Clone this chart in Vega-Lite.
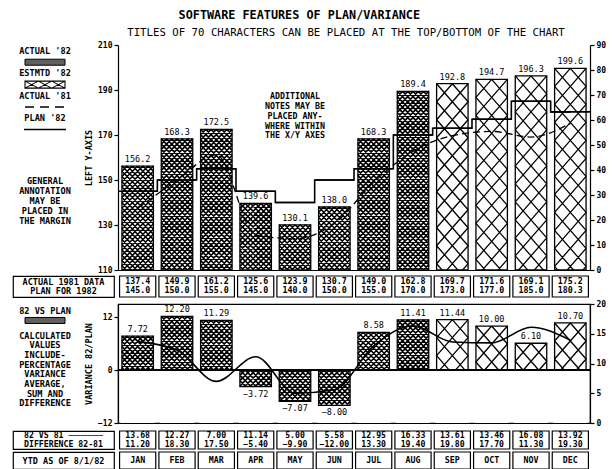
{
  "$schema": "https://vega.github.io/schema/vega-lite/v6.json",
  "background": "white",
  "padding": {"left": 12, "top": 9, "right": 4, "bottom": 0},
  "title": {"text": "SOFTWARE FEATURES OF PLAN/VARIANCE", "fontSize": 11.8, "fontWeight": "bold", "anchor": "middle", "offset": 6, "dx": -10},
  "datasets": {
    "m": [
      {"month": "JAN", "status": "ACTUAL", "actual": 156.2, "a81": 137.4, "plan": 145.0, "var": 7.72, "vs81": 13.68, "diff": 11.20},
      {"month": "FEB", "status": "ACTUAL", "actual": 168.3, "a81": 149.9, "plan": 150.0, "var": 12.20, "vs81": 12.27, "diff": 18.30},
      {"month": "MAR", "status": "ACTUAL", "actual": 172.5, "a81": 161.2, "plan": 155.0, "var": 11.29, "vs81": 7.00, "diff": 17.50},
      {"month": "APR", "status": "ACTUAL", "actual": 139.6, "a81": 125.6, "plan": 145.0, "var": -3.72, "vs81": 11.14, "diff": -5.40},
      {"month": "MAY", "status": "ACTUAL", "actual": 130.1, "a81": 123.9, "plan": 140.0, "var": -7.07, "vs81": 5.00, "diff": -9.90},
      {"month": "JUN", "status": "ACTUAL", "actual": 138.0, "a81": 130.7, "plan": 150.0, "var": -8.00, "vs81": 5.58, "diff": -12.00},
      {"month": "JUL", "status": "ACTUAL", "actual": 168.3, "a81": 149.0, "plan": 155.0, "var": 8.58, "vs81": 12.95, "diff": 13.30},
      {"month": "AUG", "status": "ACTUAL", "actual": 189.4, "a81": 162.8, "plan": 170.0, "var": 11.41, "vs81": 16.33, "diff": 19.40},
      {"month": "SEP", "status": "ESTIMATED", "actual": 192.8, "a81": 169.7, "plan": 173.0, "var": 11.44, "vs81": 13.61, "diff": 19.80},
      {"month": "OCT", "status": "ESTIMATED", "actual": 194.7, "a81": 171.6, "plan": 177.0, "var": 10.00, "vs81": 13.46, "diff": 17.70},
      {"month": "NOV", "status": "ESTIMATED", "actual": 196.3, "a81": 169.1, "plan": 185.0, "var": 6.10, "vs81": 16.08, "diff": 11.30},
      {"month": "DEC", "status": "ESTIMATED", "actual": 199.6, "a81": 175.2, "plan": 180.3, "var": 10.70, "vs81": 13.92, "diff": 19.30}
    ],
    "legTop": [
      {"item": "ACTUAL '82", "kind": "label"},
      {"item": "swA", "kind": "dense"},
      {"item": "ESTMTD '82", "kind": "label"},
      {"item": "swE", "kind": "open"},
      {"item": "ACTUAL '81", "kind": "label"},
      {"item": "swD", "kind": "dash"},
      {"item": "PLAN '82", "kind": "label"},
      {"item": "swP", "kind": "solid"},
      {"item": "note", "kind": "note", "txt": ["GENERAL", "ANNOTATION", "MAY BE", "PLACED IN", "THE MARGIN"]}
    ],
    "legBot": [
      {"item": "82 VS PLAN", "kind": "label"},
      {"item": "swB", "kind": "dense"},
      {"item": "note", "kind": "note", "txt": ["CALCULATED", "VALUES", "INCLUDE-", "PERCENTAGE", "VARIANCE", "AVERAGE,", "SUM AND", "DIFFERENCE"]}
    ]
  },
  "vconcat": [
    {
      "hconcat": [
        {
          "width": 64, "height": 225,
          "data": {"name": "legTop"},
          "encoding": {"y": {"field": "item", "type": "nominal", "scale": {"type": "point", "domain": ["ACTUAL '82", "swA", "ESTMTD '82", "swE", "ACTUAL '81", "swD", "PLAN '82", "swP", "_1", "_2", "_3", "note", "_4", "_5", "_6", "_7", "_8", "_9", "_10", "_11"], "padding": 0.535}, "axis": null}},
          "layer": [
            {"transform": [{"filter": "datum.kind==='label'"}], "mark": {"type": "text", "fontSize": 8.6, "fontWeight": "bold"}, "encoding": {"text": {"field": "item"}}},
            {"transform": [{"filter": "datum.kind==='note'"}], "mark": {"type": "text", "baseline": "top", "dy": 3, "lineHeight": 10, "fontSize": 8.6, "fontWeight": "bold"}, "encoding": {"text": {"field": "txt"}}},
            {"transform": [{"filter": "datum.kind==='dense'"}], "mark": {"type": "point", "shape": "M-20,-3H20V3H-20Z", "size": 4, "filled": true, "fill": "#606060", "stroke": "black", "strokeWidth": 1, "opacity": 1}},
            {"transform": [{"filter": "datum.kind==='open'"}], "mark": {"type": "point", "shape": "M-20,-3.5H20V3.5H-20ZM-20,-3.5L-6.67,3.5M-6.67,-3.5L-20,3.5M-6.67,-3.5L6.67,3.5M6.67,-3.5L-6.67,3.5M6.67,-3.5L20,3.5M20,-3.5L6.67,3.5", "size": 4, "filled": false, "stroke": "black", "strokeWidth": 1.1, "opacity": 1}},
            {"transform": [{"filter": "datum.kind==='dash'"}], "mark": {"type": "point", "shape": "M-20,0H20", "size": 4, "filled": false, "stroke": "black", "strokeWidth": 1.4, "strokeDash": [9, 6], "opacity": 1}},
            {"transform": [{"filter": "datum.kind==='solid'"}], "mark": {"type": "point", "shape": "M-21,0H21", "size": 4, "filled": false, "stroke": "black", "strokeWidth": 1.6, "opacity": 1}}
          ]
        },
        {
          "width": 472, "height": 225,
          "title": {"text": "TITLES OF 70 CHARACTERS CAN BE PLACED AT THE TOP/BOTTOM OF THE CHART", "fontSize": 10.7, "fontWeight": "normal", "offset": 2, "anchor": "middle", "dx": -8},
          "data": {"name": "m"},
          "layer": [
            {
              "encoding": {"x": {"field": "month", "type": "ordinal", "sort": null, "scale": {"domain": ["JAN", "FEB", "MAR", "APR", "MAY", "JUN", "JUL", "AUG", "SEP", "OCT", "NOV", "DEC"], "paddingInner": 0, "paddingOuter": 0}, "axis": {"labels": false, "ticks": false, "domain": true, "title": null, "zindex": 1}}},
              "layer": [
                {"mark": {"type": "bar", "fill": "white", "width": {"band": 0.8}, "opacity": 1, "clip": true},
                 "encoding": {"y": {"field": "actual", "type": "quantitative", "scale": {"domain": [110, 210], "nice": false, "zero": false}, "axis": {"title": "LEFT Y-AXIS", "values": [110, 130, 150, 170, 190, 210]}}, "y2": {"datum": 110}}},
                {"transform": [{"filter": "datum.status==='ACTUAL'"}],
                 "mark": {"type": "point", "shape": "M-15.75,0l31.5,31.5m-31.5,-26.25l31.5,31.5m-31.5,-26.25l31.5,31.5m-31.5,-26.25l31.5,31.5m-31.5,-26.25l31.5,31.5m-31.5,-26.25l31.5,31.5m-31.5,-26.25l31.5,31.5m-31.5,-26.25l31.5,31.5m-31.5,-26.25l31.5,31.5m-31.5,-26.25l31.5,31.5m-31.5,-26.25l31.5,31.5m-31.5,-26.25l31.5,31.5m-31.5,-26.25l31.5,31.5m-31.5,-26.25l31.5,31.5m-31.5,-26.25l31.5,31.5m-31.5,-26.25l31.5,31.5m-31.5,-26.25l31.5,31.5m-31.5,-26.25l31.5,31.5m-31.5,-26.25l31.5,31.5m-31.5,-26.25l31.5,31.5m-31.5,-26.25l31.5,31.5m-31.5,-26.25l31.5,31.5m-31.5,-26.25l31.5,31.5m-31.5,-26.25l31.5,31.5m-31.5,-26.25l31.5,31.5m-31.5,-26.25l31.5,31.5m-31.5,-26.25l31.5,31.5m-31.5,-26.25l31.5,31.5m-31.5,-26.25l31.5,31.5m-31.5,-26.25l31.5,31.5m-31.5,-26.25l31.5,31.5m-31.5,-26.25l31.5,31.5m-31.5,-26.25l31.5,31.5m-31.5,-26.25l31.5,31.5m-31.5,-26.25l31.5,31.5m-31.5,-26.25l31.5,31.5m-31.5,-26.25M-10.5,0L15.75,26.25M-5.25,0L15.75,21M0,0L15.75,15.75M5.25,0L15.75,10.5M10.5,0L15.75,5.25M15.75,0l-31.5,31.5m31.5,-26.25l-31.5,31.5m31.5,-26.25l-31.5,31.5m31.5,-26.25l-31.5,31.5m31.5,-26.25l-31.5,31.5m31.5,-26.25l-31.5,31.5m31.5,-26.25l-31.5,31.5m31.5,-26.25l-31.5,31.5m31.5,-26.25l-31.5,31.5m31.5,-26.25l-31.5,31.5m31.5,-26.25l-31.5,31.5m31.5,-26.25l-31.5,31.5m31.5,-26.25l-31.5,31.5m31.5,-26.25l-31.5,31.5m31.5,-26.25l-31.5,31.5m31.5,-26.25l-31.5,31.5m31.5,-26.25l-31.5,31.5m31.5,-26.25l-31.5,31.5m31.5,-26.25l-31.5,31.5m31.5,-26.25l-31.5,31.5m31.5,-26.25l-31.5,31.5m31.5,-26.25l-31.5,31.5m31.5,-26.25l-31.5,31.5m31.5,-26.25l-31.5,31.5m31.5,-26.25l-31.5,31.5m31.5,-26.25l-31.5,31.5m31.5,-26.25l-31.5,31.5m31.5,-26.25l-31.5,31.5m31.5,-26.25l-31.5,31.5m31.5,-26.25l-31.5,31.5m31.5,-26.25l-31.5,31.5m31.5,-26.25l-31.5,31.5m31.5,-26.25l-31.5,31.5m31.5,-26.25l-31.5,31.5m31.5,-26.25l-31.5,31.5m31.5,-26.25M10.5,0L-15.75,26.25M5.25,0L-15.75,21M0,0L-15.75,15.75M-5.25,0L-15.75,10.5M-10.5,0L-15.75,5.25", "size": 4, "filled": false, "stroke": "black", "strokeWidth": 1.6, "opacity": 1, "clip": true},
                 "encoding": {"y": {"field": "actual", "type": "quantitative"}}},
                {"transform": [{"filter": "datum.status==='ESTIMATED'"}],
                 "mark": {"type": "point", "shape": "M0,0L15.75,18M-15.75,0l31.5,36m-31.5,-18l31.5,36m-31.5,-18l31.5,36m-31.5,-18l31.5,36m-31.5,-18l31.5,36m-31.5,-18l31.5,36m-31.5,-18l31.5,36m-31.5,-18l31.5,36m-31.5,-18l31.5,36m-31.5,-18l31.5,36m-31.5,-18l31.5,36m-31.5,-18l31.5,36m-31.5,-18l31.5,36m-31.5,-18M0,0L-15.75,18M15.75,0l-31.5,36m31.5,-18l-31.5,36m31.5,-18l-31.5,36m31.5,-18l-31.5,36m31.5,-18l-31.5,36m31.5,-18l-31.5,36m31.5,-18l-31.5,36m31.5,-18l-31.5,36m31.5,-18l-31.5,36m31.5,-18l-31.5,36m31.5,-18l-31.5,36m31.5,-18l-31.5,36m31.5,-18l-31.5,36m31.5,-18", "size": 4, "filled": false, "stroke": "black", "strokeWidth": 1.3, "opacity": 1, "clip": true},
                 "encoding": {"y": {"field": "actual", "type": "quantitative"}}},
                {"mark": {"type": "bar", "filled": false, "stroke": "black", "strokeWidth": 1.3, "width": {"band": 0.8}, "opacity": 1, "clip": true},
                 "encoding": {"y": {"field": "actual", "type": "quantitative"}, "y2": {"datum": 110}}},
                {"mark": {"type": "text", "baseline": "bottom", "dy": -2, "fontSize": 8.5},
                 "encoding": {"y": {"field": "actual", "type": "quantitative"}, "text": {"field": "actual", "type": "quantitative", "format": ".1f"}}},
                {"mark": {"type": "bar", "filled": false, "stroke": "black", "strokeWidth": 1.6, "width": {"band": 1}, "opacity": 1},
                 "encoding": {"y": {"field": "plan", "type": "quantitative"}, "y2": {"field": "plan"}}},
                {"mark": {"type": "line", "interpolate": "step", "color": "black", "strokeWidth": 1.6},
                 "encoding": {"y": {"field": "plan", "type": "quantitative"}}},
                {"mark": {"type": "line", "interpolate": "monotone", "color": "black", "strokeWidth": 1.3, "strokeDash": [7, 4]},
                 "encoding": {"y": {"field": "a81", "type": "quantitative"}}},
                {"transform": [{"filter": "datum.month==='MAY'"}],
                 "mark": {"type": "text", "text": ["ADDITIONAL", "NOTES MAY BE", "PLACED ANY-", "WHERE WITHIN", "THE X/Y AXES"], "baseline": "top", "lineHeight": 9.8, "fontSize": 8.3, "fontWeight": "bold"},
                 "encoding": {"y": {"datum": 189, "type": "quantitative"}}}
              ]
            },
            {"mark": {"type": "rule", "opacity": 0},
             "encoding": {"y": {"datum": 0, "type": "quantitative", "scale": {"domain": [0, 90], "nice": false}, "axis": {"orient": "right", "values": [0, 10, 20, 30, 40, 50, 60, 70, 80, 90], "title": null}}}}
          ],
          "resolve": {"scale": {"y": "independent"}}
        }
      ],
      "spacing": 41, "bounds": "flush"
    },
    {
      "hconcat": [
        {"width": 101, "height": 21, "view": {"stroke": "black", "strokeWidth": 1.2},
         "data": {"values": [{"a": "ACTUAL 1981 DATA", "b": "PLAN FOR 1982"}]},
         "layer": [
           {"mark": {"type": "text", "dy": -4.5, "fontSize": 8.5, "fontWeight": "bold"}, "encoding": {"text": {"field": "a"}}},
           {"mark": {"type": "text", "dy": 4.5, "fontSize": 8.5, "fontWeight": "bold"}, "encoding": {"text": {"field": "b"}}}
         ]},
        {"width": 472, "height": 21, "data": {"name": "m"},
         "encoding": {"x": {"field": "month", "type": "ordinal", "sort": null, "scale": {"domain": ["JAN", "FEB", "MAR", "APR", "MAY", "JUN", "JUL", "AUG", "SEP", "OCT", "NOV", "DEC"], "paddingInner": 0, "paddingOuter": 0}, "axis": null}},
         "layer": [
           {"mark": {"type": "bar", "fill": "white", "stroke": "black", "strokeWidth": 1.2, "width": {"band": 0.92}, "opacity": 1}},
           {"mark": {"type": "text", "dy": -4.5, "fontSize": 8.3, "fontWeight": "bold"}, "encoding": {"text": {"field": "a81", "type": "quantitative", "format": ".1f"}}},
           {"mark": {"type": "text", "dy": 4.5, "fontSize": 8.3, "fontWeight": "bold"}, "encoding": {"text": {"field": "plan", "type": "quantitative", "format": ".1f"}}}
         ]}
      ],
      "spacing": 4, "bounds": "flush"
    },
    {
      "hconcat": [
        {
          "width": 64, "height": 119,
          "data": {"name": "legBot"},
          "encoding": {"y": {"field": "item", "type": "nominal", "scale": {"type": "point", "domain": ["82 VS PLAN", "swB", "note", "_1", "_2", "_3", "_4", "_5", "_6", "_7", "_8", "_9"], "padding": 0.72}, "axis": null}},
          "layer": [
            {"transform": [{"filter": "datum.kind==='label'"}], "mark": {"type": "text", "fontSize": 8.6, "fontWeight": "bold"}, "encoding": {"text": {"field": "item"}}},
            {"transform": [{"filter": "datum.kind==='note'"}], "mark": {"type": "text", "baseline": "top", "dy": 1.5, "lineHeight": 9.7, "fontSize": 8.6, "fontWeight": "bold"}, "encoding": {"text": {"field": "txt"}}},
            {"transform": [{"filter": "datum.kind==='dense'"}], "mark": {"type": "point", "shape": "M-20,-3H20V3H-20Z", "size": 4, "filled": true, "fill": "#606060", "stroke": "black", "strokeWidth": 1, "opacity": 1}}
          ]
        },
        {
          "width": 472, "height": 119,
          "view": {"stroke": "black", "strokeWidth": 1.2},
          "data": {"name": "m"},
          "layer": [
            {
              "encoding": {"x": {"field": "month", "type": "ordinal", "sort": null, "scale": {"domain": ["JAN", "FEB", "MAR", "APR", "MAY", "JUN", "JUL", "AUG", "SEP", "OCT", "NOV", "DEC"], "paddingInner": 0, "paddingOuter": 0}, "axis": {"labels": false, "ticks": false, "domain": true, "title": null, "zindex": 1}}},
              "layer": [
                {"mark": {"type": "bar", "fill": "white", "width": {"band": 0.8}, "opacity": 1},
                 "encoding": {"y": {"field": "var", "type": "quantitative", "scale": {"domain": [-12, 15], "nice": false}, "axis": {"title": "VARIANCE 82/PLAN", "values": [-12, -9, -6, -3, 0, 3, 6, 9, 12, 15], "zindex": 1}}}},
                {"transform": [{"filter": "datum.status==='ACTUAL' && datum.var>=0"}],
                 "mark": {"type": "point", "shape": "M-15.75,0l31.5,31.5m-31.5,-26.25l31.5,31.5m-31.5,-26.25l31.5,31.5m-31.5,-26.25l31.5,31.5m-31.5,-26.25l31.5,31.5m-31.5,-26.25l31.5,31.5m-31.5,-26.25l31.5,31.5m-31.5,-26.25l31.5,31.5m-31.5,-26.25l31.5,31.5m-31.5,-26.25l31.5,31.5m-31.5,-26.25l31.5,31.5m-31.5,-26.25l31.5,31.5m-31.5,-26.25l31.5,31.5m-31.5,-26.25l31.5,31.5m-31.5,-26.25l31.5,31.5m-31.5,-26.25l31.5,31.5m-31.5,-26.25l31.5,31.5m-31.5,-26.25l31.5,31.5m-31.5,-26.25l31.5,31.5m-31.5,-26.25l31.5,31.5m-31.5,-26.25l31.5,31.5m-31.5,-26.25M-10.5,0L15.75,26.25M-5.25,0L15.75,21M0,0L15.75,15.75M5.25,0L15.75,10.5M10.5,0L15.75,5.25M15.75,0l-31.5,31.5m31.5,-26.25l-31.5,31.5m31.5,-26.25l-31.5,31.5m31.5,-26.25l-31.5,31.5m31.5,-26.25l-31.5,31.5m31.5,-26.25l-31.5,31.5m31.5,-26.25l-31.5,31.5m31.5,-26.25l-31.5,31.5m31.5,-26.25l-31.5,31.5m31.5,-26.25l-31.5,31.5m31.5,-26.25l-31.5,31.5m31.5,-26.25l-31.5,31.5m31.5,-26.25l-31.5,31.5m31.5,-26.25l-31.5,31.5m31.5,-26.25l-31.5,31.5m31.5,-26.25l-31.5,31.5m31.5,-26.25l-31.5,31.5m31.5,-26.25l-31.5,31.5m31.5,-26.25l-31.5,31.5m31.5,-26.25l-31.5,31.5m31.5,-26.25M10.5,0L-15.75,26.25M5.25,0L-15.75,21M0,0L-15.75,15.75M-5.25,0L-15.75,10.5M-10.5,0L-15.75,5.25", "size": 4, "filled": false, "stroke": "black", "strokeWidth": 1.6, "opacity": 1, "clip": true},
                 "encoding": {"y": {"field": "var", "type": "quantitative"}}},
                {"transform": [{"filter": "datum.var<0"}],
                 "mark": {"type": "point", "shape": "M-15.75,0l31.5,31.5m-31.5,-26.25l31.5,31.5m-31.5,-26.25l31.5,31.5m-31.5,-26.25l31.5,31.5m-31.5,-26.25l31.5,31.5m-31.5,-26.25l31.5,31.5m-31.5,-26.25l31.5,31.5m-31.5,-26.25l31.5,31.5m-31.5,-26.25l31.5,31.5m-31.5,-26.25l31.5,31.5m-31.5,-26.25l31.5,31.5m-31.5,-26.25l31.5,31.5m-31.5,-26.25M-10.5,0L15.75,26.25M-5.25,0L15.75,21M0,0L15.75,15.75M5.25,0L15.75,10.5M10.5,0L15.75,5.25M15.75,0l-31.5,31.5m31.5,-26.25l-31.5,31.5m31.5,-26.25l-31.5,31.5m31.5,-26.25l-31.5,31.5m31.5,-26.25l-31.5,31.5m31.5,-26.25l-31.5,31.5m31.5,-26.25l-31.5,31.5m31.5,-26.25l-31.5,31.5m31.5,-26.25l-31.5,31.5m31.5,-26.25l-31.5,31.5m31.5,-26.25l-31.5,31.5m31.5,-26.25l-31.5,31.5m31.5,-26.25M10.5,0L-15.75,26.25M5.25,0L-15.75,21M0,0L-15.75,15.75M-5.25,0L-15.75,10.5M-10.5,0L-15.75,5.25", "size": 4, "filled": false, "stroke": "black", "strokeWidth": 1.6, "opacity": 1, "clip": true},
                 "encoding": {"y": {"datum": 0, "type": "quantitative"}}},
                {"transform": [{"filter": "datum.status==='ESTIMATED'"}],
                 "mark": {"type": "point", "shape": "M0,0L15.75,18M-15.75,0l31.5,36m-31.5,-18l31.5,36m-31.5,-18l31.5,36m-31.5,-18l31.5,36m-31.5,-18l31.5,36m-31.5,-18l31.5,36m-31.5,-18M0,0L-15.75,18M15.75,0l-31.5,36m31.5,-18l-31.5,36m31.5,-18l-31.5,36m31.5,-18l-31.5,36m31.5,-18l-31.5,36m31.5,-18l-31.5,36m31.5,-18", "size": 4, "filled": false, "stroke": "black", "strokeWidth": 1.3, "opacity": 1, "clip": true},
                 "encoding": {"y": {"field": "var", "type": "quantitative"}}},
                {"transform": [{"filter": "datum.var>=0"}],
                 "mark": {"type": "bar", "fill": "white", "width": {"band": 0.86}, "opacity": 1},
                 "encoding": {"y": {"datum": 0, "type": "quantitative"}, "y2": {"datum": -12}}},
                {"transform": [{"filter": "datum.var<0"}],
                 "mark": {"type": "bar", "fill": "white", "width": {"band": 0.86}, "opacity": 1},
                 "encoding": {"y": {"field": "var", "type": "quantitative"}, "y2": {"datum": -12}}},
                {"mark": {"type": "bar", "filled": false, "stroke": "black", "strokeWidth": 1.3, "width": {"band": 0.8}, "opacity": 1},
                 "encoding": {"y": {"field": "var", "type": "quantitative"}}},
                {"transform": [{"filter": "datum.var>=0"}],
                 "mark": {"type": "text", "baseline": "bottom", "dy": -2, "fontSize": 8.5},
                 "encoding": {"y": {"field": "var", "type": "quantitative"}, "text": {"field": "var", "type": "quantitative", "format": ".2f"}}},
                {"transform": [{"filter": "datum.var<0"}],
                 "mark": {"type": "text", "baseline": "top", "dy": 3, "fontSize": 8.5},
                 "encoding": {"y": {"field": "var", "type": "quantitative"}, "text": {"field": "var", "type": "quantitative", "format": ".2f"}}}
              ]
            },
            {"mark": {"type": "rule", "color": "black", "strokeWidth": 1.2},
             "encoding": {"y": {"datum": 0, "type": "quantitative", "scale": {"domain": [-12, 15], "nice": false}, "axis": null}}},
            {"mark": {"type": "line", "interpolate": "monotone", "color": "black", "strokeWidth": 1.6},
             "encoding": {
               "x": {"field": "month", "type": "ordinal", "sort": null, "scale": {"domain": ["JAN", "FEB", "MAR", "APR", "MAY", "JUN", "JUL", "AUG", "SEP", "OCT", "NOV", "DEC"], "paddingInner": 0, "paddingOuter": 0}, "axis": {"labels": false, "ticks": false, "domain": true, "title": null, "zindex": 1}},
               "y": {"field": "vs81", "type": "quantitative", "scale": {"domain": [0, 20], "nice": false}, "axis": {"orient": "right", "values": [0, 5, 10, 15, 20], "title": null}}}}
          ],
          "resolve": {"scale": {"y": "independent"}}
        }
      ],
      "spacing": 41, "bounds": "flush"
    },
    {
      "hconcat": [
        {"width": 101, "height": 18, "view": {"stroke": "black", "strokeWidth": 1.2},
         "data": {"values": [{"a": "82 VS 81 ───────", "b": "DIFFERENCE 82-81"}]},
         "layer": [
           {"mark": {"type": "text", "dy": -4.5, "fontSize": 8.2, "fontWeight": "bold"}, "encoding": {"text": {"field": "a"}}},
           {"mark": {"type": "text", "dy": 4.5, "fontSize": 8.2, "fontWeight": "bold"}, "encoding": {"text": {"field": "b"}}}
         ]},
        {"width": 472, "height": 18, "data": {"name": "m"},
         "encoding": {"x": {"field": "month", "type": "ordinal", "sort": null, "scale": {"domain": ["JAN", "FEB", "MAR", "APR", "MAY", "JUN", "JUL", "AUG", "SEP", "OCT", "NOV", "DEC"], "paddingInner": 0, "paddingOuter": 0}, "axis": null}},
         "layer": [
           {"mark": {"type": "bar", "fill": "white", "stroke": "black", "strokeWidth": 1.2, "width": {"band": 0.92}, "opacity": 1}},
           {"mark": {"type": "text", "dy": -4.5, "fontSize": 8.2, "fontWeight": "bold"}, "encoding": {"text": {"field": "vs81", "type": "quantitative", "format": ".2f"}}},
           {"mark": {"type": "text", "dy": 4.5, "fontSize": 8.2, "fontWeight": "bold"}, "encoding": {"text": {"field": "diff", "type": "quantitative", "format": ".2f"}}}
         ]}
      ],
      "spacing": 4, "bounds": "flush"
    },
    {
      "hconcat": [
        {"width": 101, "height": 17, "view": {"stroke": "black", "strokeWidth": 1.2},
         "data": {"values": [{"a": "YTD AS OF 8/1/82"}]},
         "mark": {"type": "text", "fontSize": 8.5, "fontWeight": "bold"},
         "encoding": {"text": {"field": "a"}}},
        {"width": 472, "height": 17, "data": {"name": "m"},
         "encoding": {"x": {"field": "month", "type": "ordinal", "sort": null, "scale": {"domain": ["JAN", "FEB", "MAR", "APR", "MAY", "JUN", "JUL", "AUG", "SEP", "OCT", "NOV", "DEC"], "paddingInner": 0, "paddingOuter": 0}, "axis": null}},
         "layer": [
           {"mark": {"type": "bar", "fill": "white", "stroke": "black", "strokeWidth": 1.2, "width": {"band": 0.92}, "opacity": 1}},
           {"mark": {"type": "text", "fontSize": 8.3, "fontWeight": "bold"}, "encoding": {"text": {"field": "month"}}}
         ]}
      ],
      "spacing": 4, "bounds": "flush"
    }
  ],
  "spacing": 1,
  "config": {
    "view": {"stroke": null},
    "font": "DejaVu Sans Mono",
    "axis": {"grid": false, "domainColor": "black", "domainWidth": 1.2, "tickColor": "black", "tickWidth": 1.2, "tickSize": 4, "labelColor": "black", "labelFont": "DejaVu Sans Mono", "labelFontSize": 8, "labelFontWeight": "bold", "labelPadding": 2, "titleFont": "DejaVu Sans Mono", "titleFontSize": 8.5, "titleFontWeight": "bold", "titleColor": "black", "titlePadding": 4},
    "text": {"font": "DejaVu Sans Mono", "color": "black"},
    "title": {"color": "black", "font": "DejaVu Sans Mono"}
  }
}
